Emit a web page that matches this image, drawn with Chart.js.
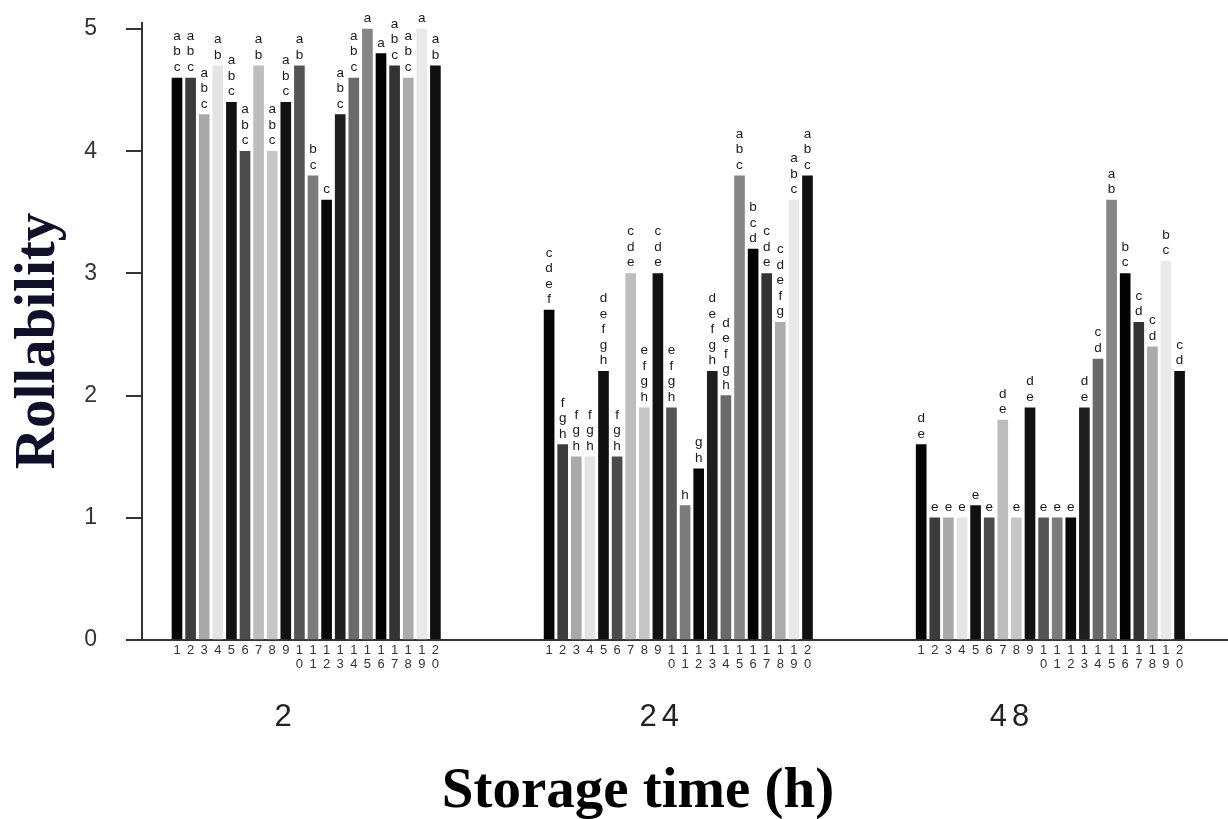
<!DOCTYPE html>
<html>
<head>
<meta charset="utf-8">
<script src="https://cdn.jsdelivr.net/npm/chart.js@4.4.1/dist/chart.umd.min.js"></script>
<style>
  body { margin: 0; background: #fff; }
</style>
</head>
<body>
<canvas id="myChart" width="1228" height="819"></canvas>
<script>
// storage times (one group of bars per time)
const storageTimes = ['2', '24', '48'];
// sample numbers 1..20 under the bars
const sampleLabels = ['1','2','3','4','5','6','7','8','9','10','11','12','13','14','15','16','17','18','19','20'];
const yTicks = [0, 1, 2, 3, 4, 5];

// rollability values
const values2h  = [4.6, 4.6, 4.3, 4.7, 4.4, 4.0, 4.7, 4.0, 4.4, 4.7, 3.8, 3.6, 4.3, 4.6, 5.0, 4.8, 4.7, 4.6, 5.0, 4.7];
const values24h = [2.7, 1.6, 1.5, 1.5, 2.2, 1.5, 3.0, 1.9, 3.0, 1.9, 1.1, 1.4, 2.2, 2.0, 3.8, 3.2, 3.0, 2.6, 3.6, 3.8];
const values48h = [1.6, 1.0, 1.0, 1.0, 1.1, 1.0, 1.8, 1.0, 1.9, 1.0, 1.0, 1.0, 1.9, 2.3, 3.6, 3.0, 2.6, 2.4, 3.1, 2.2];

// significance letters over each bar
const letters2h  = ['abc','abc','abc','ab','abc','abc','ab','abc','abc','ab','bc','c','abc','abc','a','a','abc','abc','a','ab'];
const letters24h = ['cdef','fgh','fgh','fgh','defgh','fgh','cde','efgh','cde','efgh','h','gh','defgh','defgh','abc','bcd','cde','cdefg','abc','abc'];
const letters48h = ['de','e','e','e','e','e','de','e','de','e','e','e','de','cd','ab','bc','cd','cd','bc','cd'];

// grey shade of each sample, same in every group
const barColors = ['#050505','#3c3c3c','#a9a9a9','#e4e4e4','#111111','#4b4b4b','#bdbdbd','#c6c6c6','#121212','#555555',
                   '#7b7b7b','#080808','#1f1f1f','#6a6a6a','#868686','#030303','#333333','#ababab','#e9e9e9','#111111'];

(()=>{
    const groupStride = 27.36;          // distance between group starts, in bar slots
    const groupLabelShift = [7.8, 8.1, 6.5];
    const allValues = [values2h, values24h, values48h];
    const allLetters = [letters2h, letters24h, letters48h];

    const positions = [];
    const tickText = [];
    storageTimes.forEach((t, g) => {
        sampleLabels.forEach((s, i) => {
            positions.push(g * groupStride + i);
            tickText.push(s.length > 1 ? s.split('') : s);
        });
    });

    const datasets = storageTimes.map((t, g) => ({
        label: t + ' h',
        data: allValues[g].map((v, i) => ({ x: g * groupStride + i, y: v })),
        backgroundColor: barColors,
        borderWidth: 0,
        barThickness: 10,
        grouped: false,
        letters: allLetters[g]
    }));

    // no extra label padding, so the plot area stays where it is set
    const noPadding = (scale) => {
        scale.paddingLeft = 0;
        scale.paddingRight = 0;
        scale.paddingTop = 0;
        scale.paddingBottom = 0;
    };

    const extraText = {
        id: 'extraText',
        afterDatasetsDraw(chart) {
            const ctx = chart.ctx;
            ctx.save();
            ctx.fillStyle = '#1a1a1a';
            ctx.font = '13.5px "Liberation Sans", Arial, sans-serif';
            ctx.textAlign = 'center';
            ctx.textBaseline = 'alphabetic';
            chart.data.datasets.forEach((ds, d) => {
                const meta = chart.getDatasetMeta(d);
                meta.data.forEach((bar, i) => {
                    const word = ds.letters[i];
                    for (let k = 0; k < word.length; k++) {
                        const y = bar.y - 7 - (word.length - 1 - k) * 15.5;
                        ctx.fillText(word[k], bar.x, y);
                    }
                });
            });
            ctx.restore();
        },
        afterDraw(chart) {
            const ctx = chart.ctx;
            const xs = chart.scales.x;
            ctx.save();
            // storage time under each group
            ctx.fillStyle = '#222';
            ctx.font = '31px "Liberation Sans", Arial, sans-serif';
            ctx.textAlign = 'center';
            ctx.textBaseline = 'middle';
            storageTimes.forEach((t, g) => {
                const x = xs.getPixelForValue(g * groupStride + groupLabelShift[g]);
                ctx.letterSpacing = t.length > 1 ? '5px' : '0px';
                ctx.fillText(t, x + (t.length > 1 ? 2.5 : 0), 717);
            });
            ctx.letterSpacing = '0px';
            // axis titles
            ctx.fillStyle = '#000';
            ctx.font = 'bold 57px "Liberation Serif", "Times New Roman", serif';
            ctx.textBaseline = 'alphabetic';
            ctx.fillText('Storage time (h)', 638, 807);
            ctx.fillStyle = '#10102a';
            ctx.translate(54, 341);
            ctx.rotate(-Math.PI / 2);
            ctx.fillText('Rollability', 0, 0);
            ctx.restore();
        }
    };

    const myChart = document.getElementById('myChart').getContext('2d');
    new Chart(myChart, {
        type: 'bar',
        data: { datasets: datasets },
        options: {
            responsive: false,
            animation: false,
            layout: { padding: { top: 23, left: 0, right: 0, bottom: 0 } },
            plugins: {
                legend: { display: false },
                tooltip: { enabled: false }
            },
            scales: {
                x: {
                    type: 'linear',
                    bounds: 'data',
                    offset: false,
                    min: -2.574,
                    max: 77.28,
                    afterFit: (scale) => { scale.height = 179; noPadding(scale); },
                    afterBuildTicks: (scale) => {
                        scale.ticks = positions.map(v => ({ value: v }));
                    },
                    grid: { offset: false, drawOnChartArea: false, drawTicks: false },
                    border: { color: '#333', width: 2 },
                    ticks: {
                        autoSkip: false,
                        maxRotation: 0,
                        padding: 3,
                        color: '#333',
                        font: { family: '"Liberation Sans", Arial, sans-serif', size: 13, lineHeight: 1.1 },
                        callback: (value, index) => tickText[index]
                    }
                },
                y: {
                    bounds: 'data',
                    min: 0,
                    max: 5.05,
                    afterFit: (scale) => { scale.width = 142; noPadding(scale); },
                    afterBuildTicks: (scale) => {
                        scale.ticks = yTicks.map(v => ({ value: v }));
                    },
                    grid: { drawOnChartArea: false, drawTicks: true, tickLength: 16, color: '#333', lineWidth: 2 },
                    border: { color: '#333', width: 2 },
                    ticks: {
                        padding: 29,
                        color: '#333',
                        font: { family: '"Liberation Sans", Arial, sans-serif', size: 23 }
                    }
                }
            }
        },
        plugins: [extraText]
    });
})();
</script>
</body>
</html>
